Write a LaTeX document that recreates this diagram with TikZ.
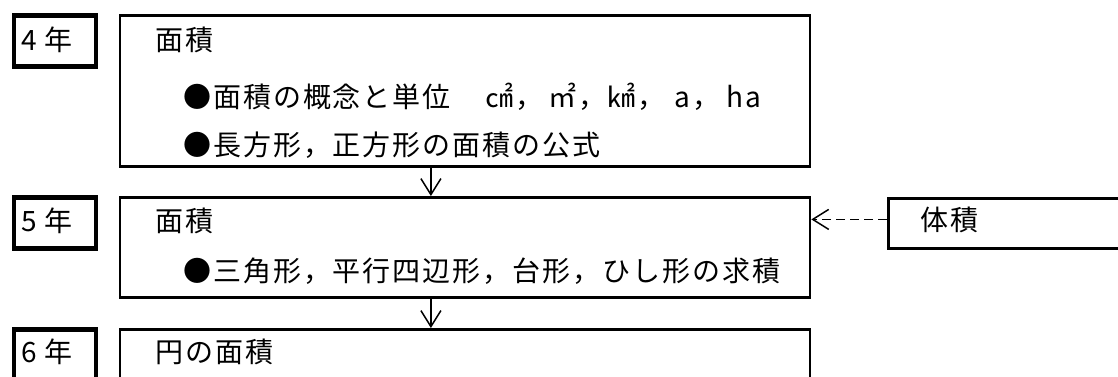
\documentclass[tikz,border=0pt]{standalone}
\usepackage{fontspec}
\setmainfont{Noto Sans CJK JP}[LetterSpace=7]
\usetikzlibrary{arrows.meta}
\begin{document}
\begin{tikzpicture}[x=1pt,y=-1pt,
  yearbox/.style={draw, line width=4.5pt, rectangle, inner sep=0pt, anchor=north west},
  mainbox/.style={draw, line width=2.8pt, rectangle, inner sep=0pt, anchor=north west},
  txt/.style={anchor=west, inner sep=0pt, font=\fontsize{28pt}{33pt}\selectfont},
  flow/.style={line width=1.5pt, -{Straight Barb[length=16pt,width=20pt,line width=1.5pt]}},
  dashflow/.style={flow, dash pattern=on 9pt off 5pt},
]
\useasboundingbox (0,0) rectangle (1118,376);
\clip (0,0) rectangle (1118,376);
% year boxes
\node[yearbox, minimum width=82pt, minimum height=51pt] (y4box) at (11.5,13) {};
\node[yearbox, minimum width=82pt, minimum height=51pt] (y5box) at (11.5,195) {};
\node[yearbox, minimum width=82pt, minimum height=80pt] (y6box) at (11.5,327) {};
% main boxes
\node[mainbox, minimum width=690pt, minimum height=151pt] (b1) at (118.5,14) {};
\node[mainbox, minimum width=690pt, minimum height=100pt] (b2) at (118.5,196) {};
\node[mainbox, minimum width=690pt, minimum height=80pt] (b3) at (118.5,328) {};
\node[mainbox, minimum width=260pt, minimum height=50pt] (vol) at (887,197) {};
% texts
\node[txt] (y4) at (21,40) {4 年};
\node[txt] (y5) at (21,221) {5 年};
\node[txt] (y6) at (21,352) {6 年};
\node[txt] (t1a) at (155,40) {面積};
\node[txt] (t1b) at (183,97) {●面積の概念と単位　\hspace{5pt}㎠，\hspace{5pt}㎡，\hspace{1pt}㎢，\hspace{9pt}a，\hspace{6pt}ha};
\node[txt] (t1c) at (183,145) {●長方形，正方形の面積の公式};
\node[txt] (t2a) at (155,221) {面積};
\node[txt] (t2b) at (183,271) {●三角形，平行四辺形，台形，ひし形の求積};
\node[txt] (t3a) at (155,352) {円の面積};
\node[txt] (tv) at (920,220) {体積};
% connectors
\draw[flow] ([xshift=-34pt]b1.south) -- ([xshift=-34pt]b2.north);
\draw[flow] ([xshift=-34pt]b2.south) -- ([xshift=-34pt]b3.north);
\draw[dashflow] ([yshift=4pt]vol.west) -- ([yshift=4pt]vol.west -| b2.east);
\end{tikzpicture}
\end{document}
